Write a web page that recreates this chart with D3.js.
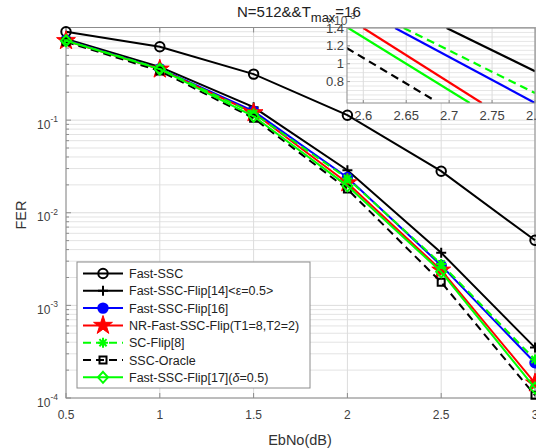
<!DOCTYPE html>
<meta charset="utf-8">
<style>
body { margin: 0; background: #fff; }
text { font-family: "Liberation Sans", Arial, sans-serif; }
</style>
<body>
<svg width="536" height="448"></svg>
<script src="https://cdnjs.cloudflare.com/ajax/libs/d3/7.8.5/d3.min.js"></script>
<script>
// EbNo points and FER values
var ebno = [0.5, 1, 1.5, 2, 2.5, 3]
var fastSSC = [0.90, 0.62, 0.314, 0.113, 0.0281, 0.00504]
var flip14 = [0.75, 0.375, 0.138, 0.0288, 0.0037, 3.5e-4]
var flip16 = [0.73, 0.36, 0.125, 0.024, 0.0027, 2.4e-4]
var nrFlip = [0.72, 0.355, 0.12, 0.021, 0.0024, 1.45e-4]
var scFlip = [0.72, 0.36, 0.118, 0.0235, 0.0028, 2.6e-4]
var oracle = [0.70, 0.34, 0.105, 0.018, 0.00178, 1.07e-4]
var flip17 = [0.72, 0.355, 0.11, 0.0195, 0.0023, 1.28e-4]

// zoomed inset (FER x 1e-3)
var inFastSSC = []
var inFlip14 = [[2.697, 1.4], [2.80, 0.915]]
var inFlip16 = [[2.637, 1.4], [2.80, 0.56]]
var inNrFlip = [[2.600, 1.4], [2.738, 0.56]]
var inScFlip = [[2.647, 1.4], [2.80, 0.672]]
var inOracle = [[2.5806, 1.176], [2.6815, 0.597]]
var inFlip17 = [[2.5825, 1.4], [2.724, 0.56]]

var xTicks = [0.5, 1, 1.5, 2, 2.5, 3]
var yTicks = [1e-4, 1e-3, 1e-2, 1e-1]
var inXTicks = [2.6, 2.65, 2.7, 2.75, 2.8]
var inYTicks = [0.8, 1, 1.2, 1.4]

var series = [
  {name: 'Fast-SSC', v: fastSSC, inset: inFastSSC, color: '#000', dash: null, marker: 'circle'},
  {name: 'Fast-SSC-Flip[14]<ε=0.5>', v: flip14, inset: inFlip14, color: '#000', dash: null, marker: 'plus'},
  {name: 'Fast-SSC-Flip[16]', v: flip16, inset: inFlip16, color: '#0000ff', dash: null, marker: 'dot'},
  {name: 'NR-Fast-SSC-Flip(T1=8,T2=2)', v: nrFlip, inset: inNrFlip, color: '#ff0000', dash: null, marker: 'star'},
  {name: 'SC-Flip[8]', v: scFlip, inset: inScFlip, color: '#00ff00', dash: '8,5', marker: 'aster'},
  {name: 'SSC-Oracle', v: oracle, inset: inOracle, color: '#000', dash: '8,5', marker: 'square'},
  {name: 'Fast-SSC-Flip[17](δ=0.5)', v: flip17, inset: inFlip17, color: '#00ff00', dash: null, marker: 'diamond'}
]

var svg = d3.select('svg')
var L = 66, R = 535, T = 27.5, B = 398

var x = d3.scaleLinear().domain([0.5, 3]).range([L, R])
var y = d3.scaleLog().domain([1e-4, 1]).range([B, T])

// grid
var minor = []
for (var e = -4; e < 0; e++) for (var m = 2; m <= 9; m++) minor.push(m * Math.pow(10, e))

svg.append('g').selectAll('line').data(minor).enter().append('line')
  .attr('x1', L).attr('x2', R).attr('y1', d => y(d)).attr('y2', d => y(d))
  .attr('stroke', '#e3e3e3').attr('stroke-width', 1)
svg.append('g').selectAll('line').data(yTicks).enter().append('line')
  .attr('x1', L).attr('x2', R).attr('y1', d => y(d)).attr('y2', d => y(d))
  .attr('stroke', '#dcdcdc').attr('stroke-width', 1)
svg.append('g').selectAll('line').data(xTicks).enter().append('line')
  .attr('y1', T).attr('y2', B).attr('x1', d => x(d)).attr('x2', d => x(d))
  .attr('stroke', '#dcdcdc').attr('stroke-width', 1)

// axes box + inward ticks
svg.append('rect').attr('x', L).attr('y', T).attr('width', R - L).attr('height', B - T)
  .attr('fill', 'none').attr('stroke', '#8c8c8c').attr('stroke-width', 1)
svg.append('g').selectAll('line').data(xTicks).enter().append('line')
  .attr('x1', d => x(d)).attr('x2', d => x(d)).attr('y1', B).attr('y2', B - 5)
  .attr('stroke', '#8c8c8c')
svg.append('g').selectAll('line').data(xTicks).enter().append('line')
  .attr('x1', d => x(d)).attr('x2', d => x(d)).attr('y1', T).attr('y2', T + 5)
  .attr('stroke', '#8c8c8c')
svg.append('g').selectAll('line').data(yTicks.concat([1])).enter().append('line')
  .attr('x1', L).attr('x2', L + 5).attr('y1', d => y(d)).attr('y2', d => y(d))
  .attr('stroke', '#8c8c8c')
svg.append('g').selectAll('line').data(minor).enter().append('line')
  .attr('x1', L).attr('x2', L + 3).attr('y1', d => y(d)).attr('y2', d => y(d))
  .attr('stroke', '#8c8c8c')

// tick labels
svg.append('g').selectAll('text').data(xTicks).enter().append('text')
  .attr('x', d => x(d)).attr('y', 419).attr('text-anchor', 'middle')
  .attr('font-size', 12).attr('fill', '#404040').text(d => d)
var yl = svg.append('g').selectAll('text').data(yTicks).enter().append('text')
  .attr('x', 58).attr('y', d => y(d) + 8.5).attr('text-anchor', 'end')
  .attr('font-size', 12).attr('fill', '#404040')
yl.append('tspan').text('10')
yl.append('tspan').attr('dy', -6.5).attr('font-size', 8.5).text(d => Math.round(Math.log10(d)))

svg.append('text').attr('x', 300).attr('y', 445).attr('text-anchor', 'middle')
  .attr('font-size', 14.5).attr('fill', '#333').text('EbNo(dB)')
svg.append('text').attr('transform', 'translate(26,215) rotate(-90)').attr('text-anchor', 'middle')
  .attr('font-size', 14.5).attr('fill', '#333').text('FER')

// markers
function markerPath(type) {
  if (type === 'circle' || type === 'dot') return d3.symbol(d3.symbolCircle, 70)()
  if (type === 'square') return 'M-3.5,-3.5H3.5V3.5H-3.5Z'
  if (type === 'diamond') return 'M0,-5.5L5,0L0,5.5L-5,0Z'
  if (type === 'star') return d3.symbol(d3.symbolStar, 110)()
  if (type === 'plus') return 'M-5,0H5M0,-5V5'
  if (type === 'aster') return 'M-5,0H5M0,-5V5M-3.6,-3.6L3.6,3.6M-3.6,3.6L3.6,-3.6'
}
function drawMarker(g, s, px, py) {
  var filled = s.marker === 'dot' || s.marker === 'star'
  g.append('path').attr('d', markerPath(s.marker))
    .attr('transform', 'translate(' + px + ',' + py + ')')
    .attr('fill', filled ? s.color : 'none')
    .attr('stroke', s.color).attr('stroke-width', s.marker === 'star' ? 1 : 2)
}

var line = d3.line().x((d, i) => x(ebno[i])).y(d => y(d))
series.forEach(function (s) {
  var g = svg.append('g')
  g.append('path').datum(s.v).attr('d', line).attr('fill', 'none')
    .attr('stroke', s.color).attr('stroke-width', 2)
    .attr('stroke-dasharray', s.dash)
  s.v.forEach(function (d, i) { drawMarker(g, s, x(ebno[i]), y(d)) })
})

// inset
var iL = 347, iR = 535, iT = 28, iB = 103
var ix = d3.scaleLinear().domain([2.581, 2.8]).range([iL, iR])
var iy = d3.scaleLinear().domain([0.56, 1.4]).range([iB, iT])

var ig = svg.append('g')
ig.append('rect').attr('x', iL).attr('y', iT).attr('width', iR - iL).attr('height', iB - iT)
  .attr('fill', '#fff')
ig.append('clipPath').attr('id', 'ic').append('rect')
  .attr('x', iL).attr('y', iT).attr('width', iR - iL).attr('height', iB - iT)
ig.append('g').selectAll('line').data(d3.range(0.6, 1.41, 0.05)).enter().append('line')
  .attr('x1', iL).attr('x2', iR).attr('y1', d => iy(d)).attr('y2', d => iy(d))
  .attr('stroke', '#e6e6e6')
ig.append('g').selectAll('line').data(inXTicks).enter().append('line')
  .attr('y1', iT).attr('y2', iB).attr('x1', d => ix(d)).attr('x2', d => ix(d))
  .attr('stroke', '#dcdcdc')

var iline = d3.line().x(d => ix(d[0])).y(d => iy(d[1]))
var ilines = ig.append('g').attr('clip-path', 'url(#ic)')
series.forEach(function (s) {
  if (!s.inset.length) return
  ilines.append('path').datum(s.inset).attr('d', iline).attr('fill', 'none')
    .attr('stroke', s.color).attr('stroke-width', 2.2)
    .attr('stroke-dasharray', s.dash)
})
ig.append('rect').attr('x', iL).attr('y', iT).attr('width', iR - iL).attr('height', iB - iT)
  .attr('fill', 'none').attr('stroke', '#8c8c8c')
ig.append('g').selectAll('line').data(inXTicks).enter().append('line')
  .attr('x1', d => ix(d)).attr('x2', d => ix(d)).attr('y1', iB).attr('y2', iB - 3)
  .attr('stroke', '#8c8c8c')
ig.append('g').selectAll('line').data(inYTicks).enter().append('line')
  .attr('x1', iL).attr('x2', iL + 3).attr('y1', d => iy(d)).attr('y2', d => iy(d))
  .attr('stroke', '#8c8c8c')
ig.append('g').selectAll('text').data(inXTicks).enter().append('text')
  .attr('x', d => ix(d)).attr('y', 120).attr('text-anchor', 'middle')
  .attr('font-size', 13).attr('fill', '#404040').text(d => d)
ig.append('g').selectAll('text').data(inYTicks).enter().append('text')
  .attr('x', 344).attr('y', d => iy(d) + 4.5).attr('text-anchor', 'end')
  .attr('font-size', 13).attr('fill', '#404040').text(d => d)
var ex = ig.append('text').attr('x', 327).attr('y', 25).attr('font-size', 12).attr('fill', '#555')
ex.append('tspan').text('×10')
ex.append('tspan').attr('dy', -6).attr('font-size', 9).text('-3')

// title
var tt = svg.append('text').attr('x', 237).attr('y', 17).attr('font-size', 15).attr('fill', '#222')
tt.append('tspan').text('N=512&&T')
tt.append('tspan').attr('dy', 5).attr('font-size', 13).text('max')
tt.append('tspan').attr('dy', -5).text('=16')

// legend
var lg = svg.append('g')
lg.append('rect').attr('x', 77).attr('y', 262).attr('width', 233).attr('height', 126)
  .attr('fill', '#fff').attr('stroke', '#8c8c8c')
series.forEach(function (s, i) {
  var ry = 273.5 + i * 17.3
  var g = lg.append('g')
  g.append('line').attr('x1', 83).attr('x2', 123).attr('y1', ry).attr('y2', ry)
    .attr('stroke', s.color).attr('stroke-width', 2).attr('stroke-dasharray', s.dash)
  drawMarker(g, s, 103, ry)
  var t = g.append('text').attr('x', 129).attr('y', ry + 4.5).attr('font-size', 12.5).attr('fill', '#222')
  if (s.name.indexOf('δ') >= 0) {
    t.append('tspan').text('Fast-SSC-Flip[17](')
    t.append('tspan').attr('font-style', 'italic').text('δ')
    t.append('tspan').text('=0.5)')
  } else t.text(s.name)
})
</script>
</body>
